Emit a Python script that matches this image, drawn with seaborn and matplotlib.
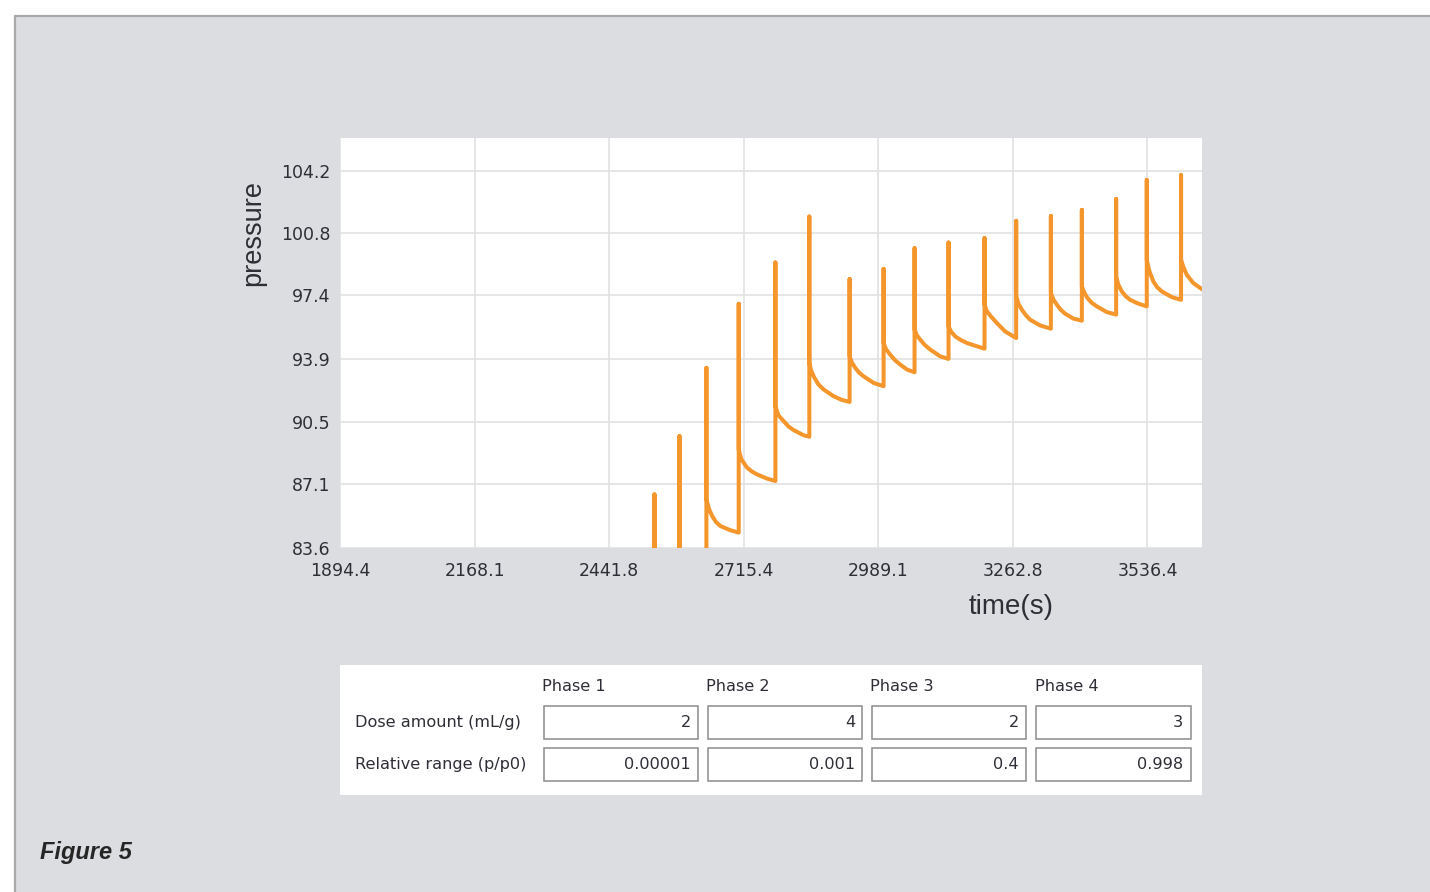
import matplotlib
matplotlib.use("Agg")
import matplotlib.pyplot as plt
from matplotlib.patches import Rectangle
from matplotlib.lines import Line2D
import seaborn as sns
import pandas as pd

# ---------------- data ----------------
# pressure trace (each dose: vertical spike, then decay)
time_s = [
    1894.4, 2533.9, 2533.9, 2533.9, 2584.7,
    2584.7, 2584.7, 2639.5,
    2639.5, 2639.5, 2644.5, 2651.1, 2659.0, 2668.0, 2688.3, 2705.2,
    2705.2, 2705.2, 2710.5, 2722.2, 2732.0, 2742.6, 2762.9, 2779.8,
    2779.8, 2779.8, 2786.0, 2796.6, 2806.0, 2816.9, 2837.2, 2848.8,
    2848.8, 2848.8, 2852.5, 2857.6, 2867.0, 2877.9, 2898.2, 2914.0, 2930.7,
    2930.7, 2930.7, 2935.5, 2942.3, 2950.0, 2959.2, 2979.5, 2999.8,
    2999.8, 2999.8, 3005.0, 3013.4, 3023.0, 3033.7, 3047.4, 3062.8,
    3062.8, 3062.8, 3067.5, 3074.4, 3084.0, 3094.7, 3115.0, 3131.9,
    3131.9, 3131.9, 3137.0, 3145.5, 3157.0, 3169.3, 3189.6, 3205.1,
    3205.1, 3205.1, 3209.5, 3216.6, 3230.2, 3247.1, 3269.4,
    3269.4, 3269.4, 3274.0, 3281.0, 3289.0, 3297.9, 3318.2, 3340.0,
    3340.0, 3340.0, 3345.0, 3352.2, 3360.0, 3369.0, 3385.9, 3403.0,
    3403.0, 3403.0, 3408.0, 3414.3, 3423.0, 3433.4, 3453.7, 3472.7,
    3472.7, 3472.7, 3477.0, 3484.2, 3492.0, 3501.1, 3518.0, 3535.0,
    3535.0, 3535.0, 3540.0, 3548.4, 3556.0, 3565.5, 3585.8, 3604.7,
    3604.7, 3604.7, 3609.5, 3616.3, 3629.7, 3646.8, 3660.0,
]
pressure = [
    78.0, 78.0, 86.53, 79.0, 79.5,
    89.71, 80.0, 80.5,
    93.44, 86.26, 85.75, 85.35, 85.02, 84.80, 84.57, 84.44,
    96.94, 88.98, 88.45, 87.99, 87.78, 87.62, 87.39, 87.26,
    99.20, 91.34, 90.85, 90.53, 90.25, 90.04, 89.76, 89.68,
    101.71, 93.71, 93.30, 92.98, 92.55, 92.26, 91.89, 91.70, 91.58,
    98.29, 94.07, 93.72, 93.44, 93.18, 92.98, 92.62, 92.44,
    98.85, 94.80, 94.45, 94.16, 93.86, 93.62, 93.35, 93.20,
    99.98, 95.53, 95.22, 94.98, 94.68, 94.44, 94.07, 93.93,
    100.29, 95.71, 95.42, 95.16, 94.96, 94.80, 94.62, 94.49,
    100.53, 96.90, 96.55, 96.30, 95.89, 95.43, 95.07,
    101.47, 97.34, 96.95, 96.62, 96.32, 96.07, 95.76, 95.58,
    101.74, 97.53, 97.18, 96.89, 96.62, 96.40, 96.13, 96.02,
    102.07, 97.89, 97.55, 97.26, 97.00, 96.80, 96.49, 96.35,
    102.67, 98.43, 98.00, 97.62, 97.36, 97.16, 96.95, 96.80,
    103.71, 99.34, 98.75, 98.16, 97.85, 97.62, 97.31, 97.16,
    103.98, 99.34, 98.95, 98.53, 98.07, 97.75, 97.55,
]

x_ticks = [1894.4, 2168.1, 2441.8, 2715.4, 2989.1, 3262.8, 3536.4]
x_tick_labels = ["1894.4", "2168.1", "2441.8", "2715.4", "2989.1", "3262.8", "3536.4"]
y_ticks = [83.6, 87.1, 90.5, 93.9, 97.4, 100.8, 104.2]
y_tick_labels = ["83.6", "87.1", "90.5", "93.9", "97.4", "100.8", "104.2"]

phases = ["Phase 1", "Phase 2", "Phase 3", "Phase 4"]
row_labels = ["Dose amount (mL/g)", "Relative range (p/p0)"]
dose_amount = ["2", "4", "2", "3"]
relative_range = ["0.00001", "0.001", "0.4", "0.998"]

figure_label = "Figure 5"

# ---------------- style ----------------
W, H = 1430, 892
sns.set_theme(style="whitegrid")
plt.rcParams["font.family"] = ["DejaVu Sans"]

LINE_COLOR = "#f4962c"
PANEL = "#dcdde0"
TXT = "#2e2e36"
GRID = "#e2e2e2"

fig = plt.figure(figsize=(W / 100, H / 100), dpi=100)
fig.patch.set_facecolor("white")

# gray panel with darker left/top border
fig.add_artist(Rectangle((15 / W, 0), 1, (H - 15) / H, transform=fig.transFigure,
                         facecolor=PANEL, edgecolor="none", zorder=-10))
fig.add_artist(Line2D([15.5 / W, 15.5 / W], [0, 1 - 15.5 / H], transform=fig.transFigure,
                      color="#a9a9ab", lw=1.6, zorder=-9))
fig.add_artist(Line2D([15.5 / W, 1], [1 - 15.5 / H, 1 - 15.5 / H], transform=fig.transFigure,
                      color="#a9a9ab", lw=1.6, zorder=-9))

# ---------------- chart ----------------
L, R, T, B = 340, 1201.7, 138, 548
ax = fig.add_axes([L / W, 1 - B / H, (R - L) / W, (B - T) / H])
ax.set_facecolor("white")

df = pd.DataFrame({"time": time_s, "pressure": pressure})
sns.lineplot(data=df, x="time", y="pressure", sort=False, estimator=None,
             color=LINE_COLOR, lw=2.9, ax=ax, solid_joinstyle="round",
             solid_capstyle="round")

ax.set_xlim(1894.4, 3646.7)
ax.set_ylim(83.6, 106.0)
ax.set_xticks(x_ticks)
ax.set_xticklabels(x_tick_labels)
ax.set_yticks(y_ticks)
ax.set_yticklabels(y_tick_labels)
ax.grid(True, color=GRID, lw=1.2)
for s in ax.spines.values():
    s.set_visible(False)
ax.tick_params(axis="x", length=4, color=GRID, width=1.2, pad=6, labelsize=12.5, labelcolor=TXT)
ax.tick_params(axis="y", length=6, color=GRID, width=1.2, pad=1, labelsize=12.5, labelcolor=TXT)

ax.set_xlabel("time(s)", family=["Liberation Sans"], fontsize=20, color=TXT)
ax.xaxis.set_label_coords((1011 - L) / (R - L), (B - 607) / (B - T))
ax.xaxis.label.set_verticalalignment("center")
ax.set_ylabel("pressure", family=["Liberation Sans"], fontsize=19.5, color=TXT)
ax.yaxis.set_label_coords((253 - L) / (R - L), (B - 233) / (B - T))
ax.yaxis.label.set_verticalalignment("center")

# ---------------- parameter table ----------------
TL, TR, TT, TB = 340, 1201.7, 665, 795
tab = fig.add_axes([TL / W, 1 - TB / H, (TR - TL) / W, (TB - TT) / H])
tab.set_facecolor("white")
tab.set_xlim(0, TR - TL)
tab.set_ylim(TB - TT, 0)
tab.set_xticks([])
tab.set_yticks([])
tab.grid(False)
for s in tab.spines.values():
    s.set_visible(False)

box_left = [203.5, 367.5, 531.5, 696.0]
box_w = 154.5
row_top = [40.7, 83.3]
row_h = 32.8
tfs = 11.6
for i, ph in enumerate(phases):
    tab.text(box_left[i] - 1, 21.7, ph, ha="left", va="center", fontsize=tfs, color=TXT)
for r, (lab, vals) in enumerate(zip(row_labels, [dose_amount, relative_range])):
    yc = row_top[r] + row_h / 2
    tab.text(15, yc, lab, ha="left", va="center", fontsize=tfs, color=TXT)
    for i, v in enumerate(vals):
        tab.add_patch(Rectangle((box_left[i], row_top[r]), box_w, row_h,
                                facecolor="white", edgecolor="#8c8c8c", lw=1.1))
        tab.text(box_left[i] + box_w - 7, yc, v, ha="right", va="center",
                 fontsize=tfs, color=TXT)

# ---------------- figure label ----------------
fig.text(40 / W, 1 - 852 / H, figure_label, family=["Liberation Sans"], fontsize=17,
         fontweight="bold", fontstyle="italic", color="#262626", ha="left", va="center")

fig.savefig("out.png", dpi=100)
